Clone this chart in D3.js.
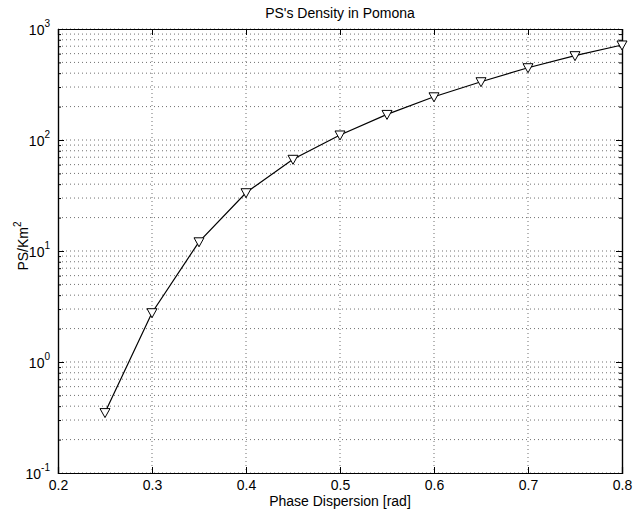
<!DOCTYPE html>
<html>
<head>
<meta charset="utf-8">
<script src="https://cdn.jsdelivr.net/npm/d3@7"></script>
<style>
  body { margin: 0; background: #fff; }
  text { font-family: "Liberation Sans", Arial, sans-serif; fill: #000; }
</style>
</head>
<body>
<div id="chart"></div>
<script>
const width = 636;
const height = 510;
const margin = { top: 29, right: 14, bottom: 37, left: 58 };

// data
const phase = [0.25, 0.30, 0.35, 0.40, 0.45, 0.50, 0.55, 0.60, 0.65, 0.70, 0.75, 0.80];
const density = [0.35, 2.78, 12.1, 33.5, 67, 111, 170, 245, 335, 448, 575, 718];

const xTicks = [0.2, 0.3, 0.4, 0.5, 0.6, 0.7, 0.8];
const yExponents = [-1, 0, 1, 2, 3];

const titleText = "PS's Density in Pomona";
const xLabelText = "Phase Dispersion [rad]";

const innerW = width - margin.left - margin.right;
const innerH = height - margin.top - margin.bottom;

const svg = d3.select("#chart")
    .append("svg")
    .attr("width", width)
    .attr("height", height);

const g = svg.append("g")
    .attr("transform", `translate(${margin.left},${margin.top})`);

const x = d3.scaleLinear().domain([0.2, 0.8]).range([0, innerW]);
const y = d3.scaleLog().domain([0.1, 1000]).range([innerH, 0]);

// minor values of the log axis (2..9 in each decade)
const minorVals = [];
yExponents.slice(0, -1).forEach((e) => {
    for (let k = 2; k <= 9; k++) minorVals.push(k * Math.pow(10, e));
});
const majorVals = yExponents.map((e) => Math.pow(10, e));

// grid
const grid = g.append("g")
    .attr("stroke", "#000")
    .attr("stroke-width", 0.8)
    .attr("stroke-dasharray", "1,3")
    .attr("opacity", 0.7);

grid.selectAll(".hg")
    .data(majorVals.concat(minorVals))
    .join("line")
    .attr("x1", 0).attr("x2", innerW)
    .attr("y1", (d) => y(d)).attr("y2", (d) => y(d));

grid.selectAll(".vg")
    .data(xTicks.slice(1, -1))
    .join("line")
    .attr("y1", 0).attr("y2", innerH)
    .attr("x1", (d) => x(d)).attr("x2", (d) => x(d));

// axes with inward ticks
const xAxisB = d3.axisBottom(x).tickValues(xTicks).tickSize(-6).tickPadding(7)
    .tickFormat(d3.format(".1f"));
const xAxisT = d3.axisTop(x).tickValues(xTicks).tickSize(-6).tickFormat("");
const yAxisL = d3.axisLeft(y).tickValues(majorVals).tickSize(-6).tickFormat("");
const yAxisR = d3.axisRight(y).tickValues(majorVals).tickSize(-6).tickFormat("");
const yMinorL = d3.axisLeft(y).tickValues(minorVals).tickSize(-3).tickFormat("");
const yMinorR = d3.axisRight(y).tickValues(minorVals).tickSize(-3).tickFormat("");

g.append("g").attr("transform", `translate(0,${innerH})`).call(xAxisB);
g.append("g").call(xAxisT);
g.append("g").call(yAxisL);
g.append("g").call(yMinorL);
g.append("g").attr("transform", `translate(${innerW},0)`).call(yAxisR);
g.append("g").attr("transform", `translate(${innerW},0)`).call(yMinorR);

g.selectAll(".domain").attr("stroke", "#000").attr("stroke-width", 1.2);
g.selectAll(".tick line").attr("stroke", "#000");
g.selectAll(".tick text").attr("font-size", 14);

// y tick labels as 10^e
const yLab = g.append("g");
yExponents.forEach((e) => {
    const t = yLab.append("text")
        .attr("x", -8)
        .attr("y", y(Math.pow(10, e)) + 6)
        .attr("text-anchor", "end")
        .attr("font-size", 14);
    t.append("tspan").text("10");
    t.append("tspan").text(e).attr("font-size", 10).attr("dy", -8);
});

// line
const line = d3.line()
    .x((d, i) => x(phase[i]))
    .y((d) => y(d));

g.append("path")
    .datum(density)
    .attr("fill", "none")
    .attr("stroke", "#000")
    .attr("stroke-width", 1.2)
    .attr("d", line);

// downward triangle markers
const tri = "M-5,-4 L5,-4 L0,5 Z";
g.selectAll(".marker")
    .data(density)
    .join("path")
    .attr("d", tri)
    .attr("fill", "#fff")
    .attr("stroke", "#000")
    .attr("stroke-width", 1)
    .attr("transform", (d, i) => `translate(${x(phase[i])},${y(d)})`);

// title and labels
svg.append("text")
    .attr("x", margin.left + innerW / 2)
    .attr("y", 18)
    .attr("text-anchor", "middle")
    .attr("font-size", 14)
    .text(titleText);

svg.append("text")
    .attr("x", margin.left + innerW / 2)
    .attr("y", 506)
    .attr("text-anchor", "middle")
    .attr("font-size", 14)
    .text(xLabelText);

const yl = svg.append("text")
    .attr("transform", `translate(28,246) rotate(-90)`)
    .attr("text-anchor", "middle")
    .attr("font-size", 14);
yl.append("tspan").text("PS/Km");
yl.append("tspan").text("2").attr("font-size", 10).attr("dy", -7);
</script>
</body>
</html>
